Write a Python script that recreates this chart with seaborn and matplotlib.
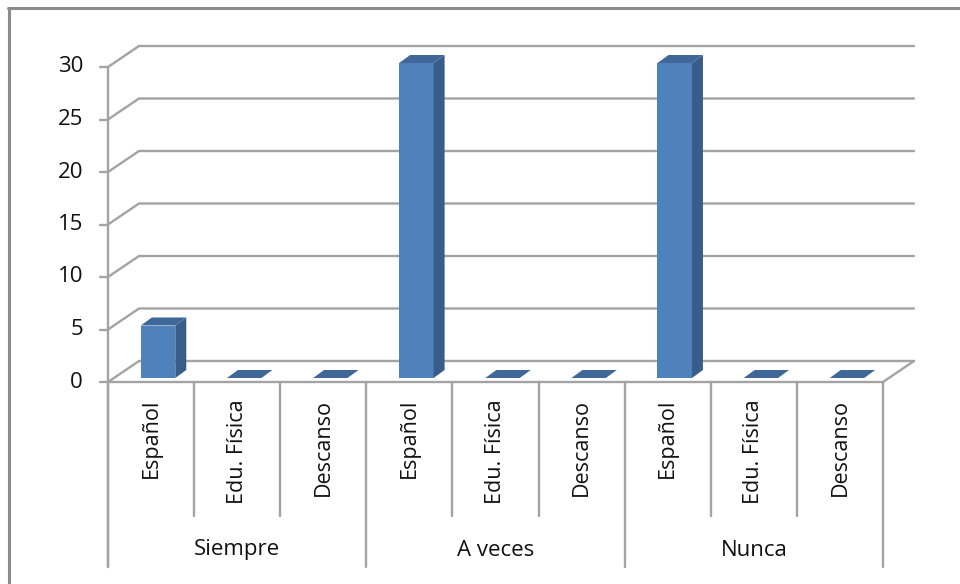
import numpy as np
import pandas as pd
import matplotlib
matplotlib.use('Agg')
import matplotlib.pyplot as plt
from matplotlib.transforms import ScaledTranslation, IdentityTransform
from matplotlib.patches import Polygon
import seaborn as sns

# Data
grupos = ['Siempre', 'A veces', 'Nunca']
materias = ['Español', 'Edu. Física', 'Descanso']
valores = [5, 0, 0, 30, 0, 0, 30, 0, 0]
y_ticks = [0, 5, 10, 15, 20, 25, 30]

df = pd.DataFrame({'pos': list(range(len(valores))),
                   'materia': materias * len(grupos),
                   'grupo': np.repeat(grupos, len(materias)),
                   'valor': valores})

sns.set_style('white')
plt.rcParams['font.family'] = ['Open Sans', 'DejaVu Sans']

W, H = 960, 584
DPI = 100
fig = plt.figure(figsize=(W / DPI, H / DPI), dpi=DPI)
fig.patch.set_facecolor('white')

# plot area in pixels (front plane)
left, right, top, bottom = 108, 883, 67, 382
ax = fig.add_axes([left / W, (H - bottom) / H, (right - left) / W, (bottom - top) / H])

sns.barplot(data=df, x='pos', y='valor', color='#4F81BD', saturation=1,
            width=0.4, errorbar=None, ax=ax, zorder=5)
ax.set_xlim(-0.5, len(valores) - 0.5)
ax.set_ylim(0, 30)
ax.axis('off')

grid_c = '#A3A3A3'
txt_c = '#111111'
DX, DY = 31, 21       # depth of the 3d box (px)
BX, BY = 7, 4         # front face of bars inside the box
SX, SY = 11, 8        # bar depth
ident = IdentityTransform()

def disp(x, y):
    return ax.transData.transform((x, y))

n = len(valores)
xl, _ = disp(-0.5, 0)
xr, _ = disp(n - 0.5, 0)

# back wall gridlines
for t in y_ticks:
    _, yy = disp(0, t)
    ax.plot([xl, xl + DX, xr + DX], [yy, yy + DY, yy + DY], color=grid_c,
            lw=1.7, transform=ident, clip_on=False, zorder=1)
    # tick marks
    ax.plot([xl - 8, xl], [yy, yy], color=grid_c, lw=1.7, transform=ident,
            clip_on=False, zorder=2)
    ax.text(xl - 25, yy, str(t), ha='right', va='center', fontsize=16,
            color=txt_c, transform=ident)

_, y0 = disp(0, 0)
_, y30 = disp(0, 30)
# floor
ax.plot([xr, xr + DX], [y0, y0 + DY], color=grid_c, lw=1.7, transform=ident,
        clip_on=False, zorder=1)
ax.plot([xl, xr], [y0, y0], color=grid_c, lw=1.7, transform=ident,
        clip_on=False, zorder=2)
# vertical axis
ax.plot([xl, xl], [y30, H - 567], color=grid_c, lw=1.7, transform=ident,
        clip_on=False, zorder=2)

# category box separators
for i in range(n + 1):
    xx, _ = disp(i - 0.5, 0)
    yb = H - 567 if i % len(materias) == 0 else H - 516
    ax.plot([xx, xx], [y0, yb], color=grid_c, lw=1.7, transform=ident,
            clip_on=False, zorder=2)

for i, m in enumerate(df['materia']):
    xx, _ = disp(i, 0)
    ax.text(xx, H - 399, m, rotation=90, ha='center', va='top', fontsize=15.5,
            color=txt_c, transform=ident)

for g, grp in enumerate(grupos):
    xx, _ = disp(g * len(materias) + 1, 0)
    ax.text(xx, H - 550, grp, ha='center', va='center', fontsize=16,
            color=txt_c, transform=ident)

# 3d faces of the bars
shift = ScaledTranslation(BX / DPI, BY / DPI, fig.dpi_scale_trans)
for p in ax.patches:
    p.set_transform(ax.transData + shift)
    p.set_clip_on(False)
    p.set_linewidth(0)
    bx0, by0 = disp(p.get_x(), 0)
    bx1, by1 = disp(p.get_x() + p.get_width(), p.get_height())
    bx0, bx1 = bx0 + BX, bx1 + BX
    by0, by1 = by0 + BY, by1 + BY
    side = Polygon([(bx1, by0), (bx1 + SX, by0 + SY), (bx1 + SX, by1 + SY), (bx1, by1)],
                   closed=True, facecolor='#385D8A', edgecolor='none',
                   transform=ident, zorder=5, clip_on=False)
    topf = Polygon([(bx0, by1), (bx1, by1), (bx1 + SX, by1 + SY), (bx0 + SX, by1 + SY)],
                   closed=True, facecolor='#3F6797', edgecolor='none',
                   transform=ident, zorder=5, clip_on=False)
    ax.add_artist(side)
    ax.add_artist(topf)

# chart border (top and left only visible)
fig.add_artist(plt.Line2D([8, W], [H - 8, H - 8], color='#8C8C8C', lw=2.2, transform=ident))
fig.add_artist(plt.Line2D([9, 9], [H - 8, 0], color='#8C8C8C', lw=2.2, transform=ident))

fig.savefig('out.png', dpi=DPI, facecolor='white')
